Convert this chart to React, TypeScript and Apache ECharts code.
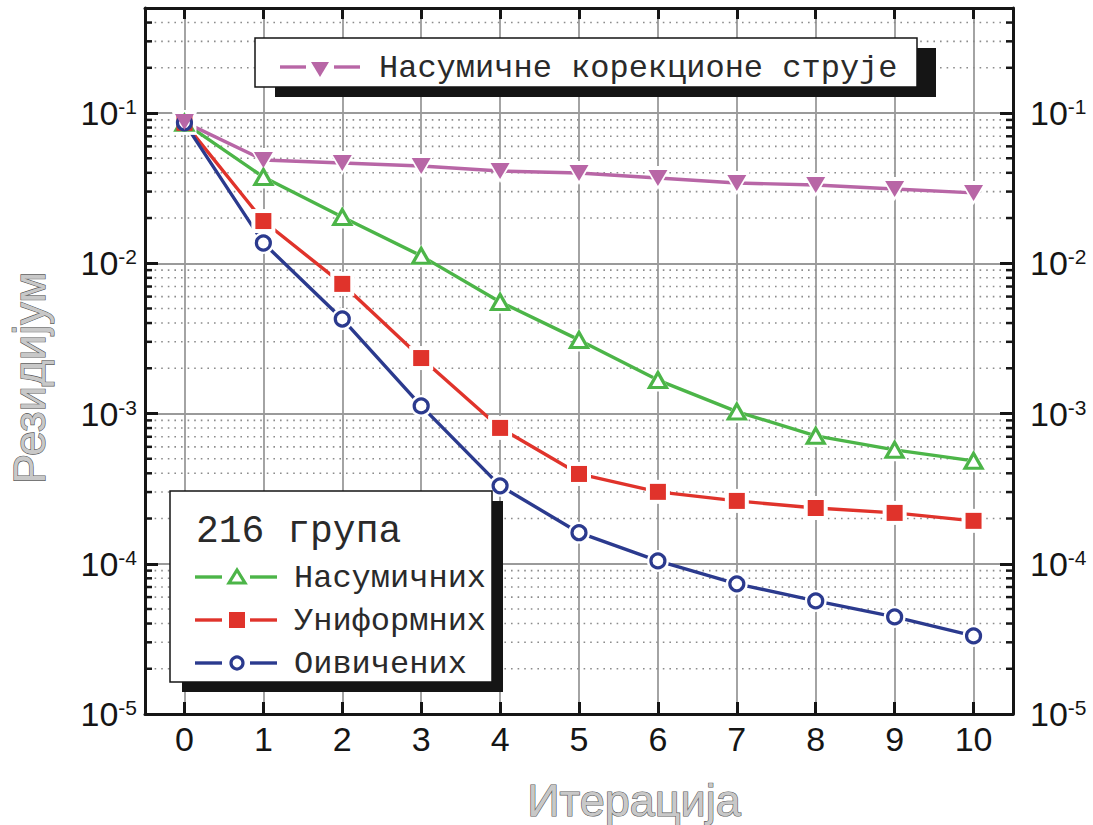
import React, { useEffect, useRef } from "react";
import * as echarts from "echarts";

// Iteration numbers on the x axis
const iterations = [0, 1, 2, 3, 4, 5, 6, 7, 8, 9, 10];

// Residual after each iteration
const randomCurrents = [0.087, 0.0487, 0.0465, 0.0444, 0.0411, 0.0399, 0.0369, 0.0342, 0.0332, 0.0312, 0.0294];
const randomGroups = [0.086, 0.0375, 0.0203, 0.0112, 0.00553, 0.00309, 0.00167, 0.00103, 0.00071, 0.000573, 0.000484];
const uniformGroups = [0.086, 0.0191, 0.00729, 0.00234, 0.000802, 0.000396, 0.000301, 0.000262, 0.000235, 0.000218, 0.000193];
const boundedGroups = [0.086, 0.01365, 0.00426, 0.001124, 0.00033, 0.000161, 0.0001045, 0.0000735, 0.0000566, 0.0000443, 0.0000331];

// Series names and legend texts
const seriesNames = ["Насумичне корекционе струје", "Насумичних", "Униформних", "Оивичених"];
const groupTitle = "216 група";
const xTitle = "Итерација";
const yTitle = "Резидијум";

// Log axis range and the decades that carry minor grid lines
const yMin = 1e-5;
const yMax = 0.5;
const decades = [1e-5, 1e-4, 1e-3, 1e-2, 1e-1];
const minorSteps = [2, 3, 4, 5, 6, 7, 8, 9];

const GREEN = "#4cb548";
const RED = "#e0332b";
const BLUE = "#2b3a8e";
const PURPLE = "#b866a6";
const INK = "#151515";
const GRID_GRAY = "#9a9a9a";
const SANS = "'Liberation Sans', Arial, sans-serif";
const MONO = "'Liberation Mono', 'Courier New', monospace";

type Spec = {
  name: string;
  values: number[];
  color: string;
  symbol: string;
  size: number[];
  rotate: number;
  hollow: boolean;
};

const specs: Spec[] = [
  { name: seriesNames[1], values: randomGroups, color: GREEN, symbol: "triangle", size: [17, 15], rotate: 0, hollow: true },
  { name: seriesNames[2], values: uniformGroups, color: RED, symbol: "rect", size: [16, 16], rotate: 0, hollow: false },
  { name: seriesNames[3], values: boundedGroups, color: BLUE, symbol: "circle", size: [14, 14], rotate: 0, hollow: true },
  { name: seriesNames[0], values: randomCurrents, color: PURPLE, symbol: "triangle", size: [19, 16], rotate: 180, hollow: false },
];

function buildSeries() {
  const out: any[] = [];
  const minorValues: number[][] = [];
  decades.forEach((d) => {
    minorSteps.forEach((m) => {
      const v = d * m;
      if (v < yMax) minorValues.push([0, v]);
    });
  });
  // dotted minor grid plus the short inside ticks on both y axes
  out.push({
    type: "custom",
    name: "minor-grid",
    silent: true,
    z: 1,
    clip: false,
    data: minorValues,
    renderItem: (params: any, api: any) => {
      const cs = params.coordSys;
      const y = api.coord([0, api.value(1)])[1];
      return {
        type: "group",
        children: [
          {
            type: "line",
            shape: { x1: cs.x + 3, y1: y, x2: cs.x + cs.width - 3, y2: y },
            style: { stroke: "#8c8c8c", lineWidth: 1.6, lineDash: [1.6, 5] },
          },
          {
            type: "line",
            shape: { x1: cs.x, y1: y, x2: cs.x + 7, y2: y },
            style: { stroke: INK, lineWidth: 2.5 },
          },
          {
            type: "line",
            shape: { x1: cs.x + cs.width - 7, y1: y, x2: cs.x + cs.width, y2: y },
            style: { stroke: INK, lineWidth: 2.5 },
          },
        ],
      };
    },
  });

  specs.forEach((s) => {
    const data = iterations.map((x, i) => [x, s.values[i]]);
    out.push({
      type: "line",
      name: s.name,
      data,
      symbol: "none",
      showSymbol: false,
      lineStyle: { color: s.color, width: 3.4 },
      z: 3,
      silent: true,
    });
    out.push({
      type: "line",
      name: s.name + "-halo",
      data,
      symbol: s.symbol,
      symbolRotate: s.rotate,
      symbolSize: [s.size[0] + 8, s.size[1] + 8],
      showSymbol: true,
      lineStyle: { width: 0, opacity: 0 },
      itemStyle: { color: "#ffffff", borderWidth: 0 },
      z: 9,
      silent: true,
    });
    out.push({
      type: "line",
      name: s.name + "-marker",
      data,
      symbol: s.symbol,
      symbolRotate: s.rotate,
      symbolSize: s.size,
      showSymbol: true,
      lineStyle: { width: 0, opacity: 0 },
      itemStyle: {
        color: s.hollow ? "#ffffff" : s.color,
        borderColor: s.color,
        borderWidth: s.hollow ? 3.2 : 0,
      },
      z: 10,
      silent: true,
    });
  });
  return out;
}

function powerLabel(v: number) {
  const lg = Math.log10(v);
  const e = Math.round(lg);
  if (Math.abs(lg - e) > 0.01) return "";
  return `{b|10}{s|${e}}`;
}

const yRich = {
  b: { fontSize: 34, fontFamily: SANS, color: INK },
  s: { fontSize: 21, fontFamily: SANS, color: INK, verticalAlign: "top" },
};

function legendGraphics() {
  const els: any[] = [];
  // upper legend box
  els.push({ type: "rect", z: 20, shape: { x: 275, y: 48, width: 661, height: 49 }, style: { fill: INK } });
  els.push({
    type: "rect",
    z: 21,
    shape: { x: 255, y: 38, width: 662, height: 49 },
    style: { fill: "#ffffff", stroke: INK, lineWidth: 1.5 },
  });
  els.push({ type: "line", z: 22, shape: { x1: 280, y1: 67, x2: 306, y2: 67 }, style: { stroke: PURPLE, lineWidth: 3.4 } });
  els.push({ type: "line", z: 22, shape: { x1: 334, y1: 67, x2: 360, y2: 67 }, style: { stroke: PURPLE, lineWidth: 3.4 } });
  els.push({
    type: "polygon",
    z: 22,
    shape: { points: [[311, 62], [329, 62], [320, 77]] },
    style: { fill: PURPLE },
  });
  els.push({
    type: "text",
    z: 22,
    x: 379,
    y: 68,
    style: { text: seriesNames[0], font: `32px ${MONO}`, fill: "#2a2a2a", verticalAlign: "middle" },
  });

  // lower legend box
  els.push({ type: "rect", z: 20, shape: { x: 182, y: 501, width: 321, height: 191 }, style: { fill: INK } });
  els.push({
    type: "rect",
    z: 21,
    shape: { x: 170, y: 491, width: 322, height: 191 },
    style: { fill: "#ffffff", stroke: INK, lineWidth: 1.5 },
  });
  els.push({
    type: "text",
    z: 22,
    x: 196,
    y: 531,
    style: { text: groupTitle, font: `38px ${MONO}`, fill: "#2a2a2a", verticalAlign: "middle" },
  });
  const rows = [
    { y: 577, color: GREEN, text: seriesNames[1] },
    { y: 620, color: RED, text: seriesNames[2] },
    { y: 663, color: BLUE, text: seriesNames[3] },
  ];
  rows.forEach((r, i) => {
    els.push({ type: "line", z: 22, shape: { x1: 195, y1: r.y, x2: 222, y2: r.y }, style: { stroke: r.color, lineWidth: 3.4 } });
    els.push({ type: "line", z: 22, shape: { x1: 250, y1: r.y, x2: 277, y2: r.y }, style: { stroke: r.color, lineWidth: 3.4 } });
    if (i === 0) {
      els.push({
        type: "polygon",
        z: 22,
        shape: { points: [[229, r.y + 6], [245, r.y + 6], [237, r.y - 7]] },
        style: { fill: "#ffffff", stroke: r.color, lineWidth: 3.2 },
      });
    } else if (i === 1) {
      els.push({ type: "rect", z: 22, shape: { x: 229, y: r.y - 8, width: 16, height: 16 }, style: { fill: r.color } });
    } else {
      els.push({
        type: "circle",
        z: 22,
        shape: { cx: 237, cy: r.y, r: 6 },
        style: { fill: "#ffffff", stroke: r.color, lineWidth: 3.2 },
      });
    }
    els.push({
      type: "text",
      z: 22,
      x: 294,
      y: r.y + 1,
      style: { text: r.text, font: `32px ${MONO}`, fill: "#2a2a2a", verticalAlign: "middle" },
    });
  });

  // axis titles drawn as outlined lettering
  els.push({
    type: "text",
    z: 22,
    x: 634,
    y: 800,
    style: {
      text: xTitle,
      font: `45px ${SANS}`,
      fill: "#c8c8c8",
      stroke: "#595959",
      lineWidth: 1.2,
      align: "center",
      verticalAlign: "middle",
    },
  });
  els.push({
    type: "text",
    z: 22,
    x: 29,
    y: 378,
    rotation: Math.PI / 2,
    style: {
      text: yTitle,
      font: `45px ${SANS}`,
      fill: "#c8c8c8",
      stroke: "#595959",
      lineWidth: 1.2,
      align: "center",
      verticalAlign: "middle",
    },
  });
  return els;
}

export default function App() {
  const ref = useRef<HTMLDivElement>(null);

  useEffect(() => {
    if (!ref.current) return;
    const chart = echarts.init(ref.current, undefined, { renderer: "svg" });
    const frameLine = { show: true, onZero: false, lineStyle: { color: INK, width: 3 } };
    const option: any = {
      animation: false,
      backgroundColor: "#ffffff",
      grid: { left: 145, top: 8, right: 80, bottom: 111, containLabel: false, outerBoundsMode: "none" },
      xAxis: [
        {
          type: "value",
          min: -0.5,
          max: 10.5,
          splitNumber: 11,
          position: "bottom",
          axisLine: frameLine,
          axisTick: { show: true, inside: true, length: 12, lineStyle: { color: INK, width: 3 } },
          axisLabel: {
            show: true,
            margin: 8,
            fontSize: 34,
            fontFamily: SANS,
            color: INK,
            showMinLabel: false,
            showMaxLabel: false,
            formatter: (v: number) => (Math.abs(v - Math.round(v)) < 1e-6 ? String(Math.round(v)) : ""),
          },
          splitLine: { show: true, showMinLine: false, showMaxLine: false, lineStyle: { color: GRID_GRAY, width: 1.8 } },
        },
        {
          type: "value",
          min: -0.5,
          max: 10.5,
          splitNumber: 11,
          position: "top",
          axisLine: frameLine,
          axisTick: { show: true, inside: true, length: 11, lineStyle: { color: INK, width: 3 } },
          axisLabel: { show: false },
          splitLine: { show: false },
        },
      ],
      yAxis: [
        {
          type: "log",
          logBase: 10,
          min: yMin,
          max: yMax,
          position: "left",
          axisLine: frameLine,
          axisTick: { show: true, inside: true, length: 13, lineStyle: { color: INK, width: 3 } },
          axisLabel: { show: true, margin: 8, formatter: powerLabel, rich: yRich },
          splitLine: { show: true, showMinLine: false, showMaxLine: false, lineStyle: { color: GRID_GRAY, width: 1.8 } },
        },
        {
          type: "log",
          logBase: 10,
          min: yMin,
          max: yMax,
          position: "right",
          axisLine: frameLine,
          axisTick: { show: true, inside: true, length: 13, lineStyle: { color: INK, width: 3 } },
          axisLabel: { show: true, margin: 17, formatter: powerLabel, rich: yRich },
          splitLine: { show: false },
        },
      ],
      series: buildSeries(),
      graphic: { elements: legendGraphics() },
    };
    chart.setOption(option);
    return () => chart.dispose();
  }, []);

  return (
    <div
      ref={ref}
      style={{ position: "fixed", left: 0, top: 0, width: 1093, height: 825, background: "#ffffff" }}
    />
  );
}
